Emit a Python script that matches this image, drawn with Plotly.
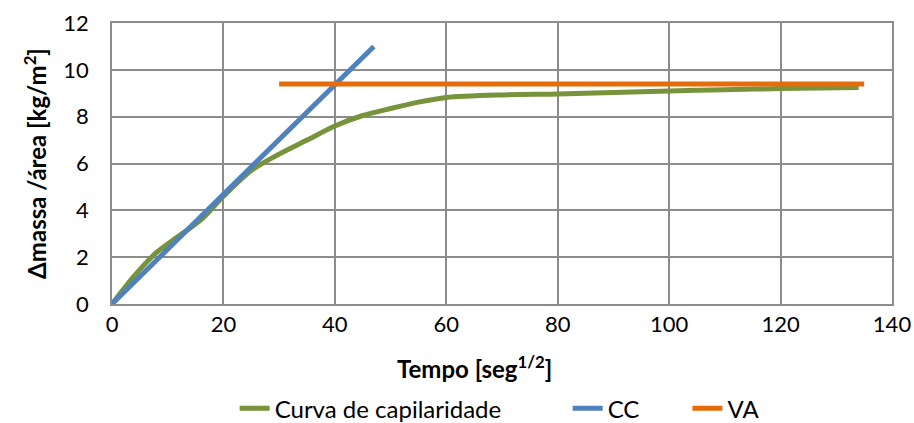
import plotly.graph_objects as go

curva_x = [0, 4, 8, 12, 16, 20, 25, 30, 35, 40, 45, 50, 55, 60, 70, 80, 90, 100, 110, 120, 134]
curva_y = [0, 1.2, 2.2, 2.9, 3.6, 4.6, 5.7, 6.4, 7.0, 7.6, 8.05, 8.35, 8.62, 8.82, 8.93, 8.97, 9.03, 9.1, 9.15, 9.2, 9.25]
cc_x = [0, 47]
cc_y = [0, 11]
va_x = [30, 135]
va_y = [9.4, 9.4]

font = "Lato, 'Open Sans', sans-serif"
grid = "#8c8c8c"
pad = "\u00a0"

fig = go.Figure()
fig.add_trace(go.Scatter(x=curva_x, y=curva_y, mode="lines", name="Curva de capilaridade" + pad * 10,
                         line=dict(color="#77933C", width=5, shape="spline", smoothing=0.8)))
fig.add_trace(go.Scatter(x=cc_x, y=cc_y, mode="lines", name="CC" + pad * 7,
                         line=dict(color="#4F81BD", width=5)))
fig.add_trace(go.Scatter(x=va_x, y=va_y, mode="lines", name="VA",
                         line=dict(color="#E46C0A", width=5)))

fig.update_layout(
    width=914, height=423,
    margin=dict(l=112, r=22, t=23, b=119, autoexpand=False),
    paper_bgcolor="white", plot_bgcolor="white",
    font=dict(family=font, size=22, color="#000000"),
    showlegend=True,
    legend=dict(orientation="h", x=0.497, xanchor="center", y=-0.372, yanchor="middle",
                font=dict(size=24), tracegroupgap=0),
    xaxis=dict(range=[0, 140], dtick=20, showgrid=True, gridcolor=grid, gridwidth=2,
               showline=True, linecolor=grid, linewidth=2, mirror=True, zeroline=False,
               ticks="", tickfont=dict(size=22), automargin=False),
    yaxis=dict(range=[0, 12], dtick=2, showgrid=True, gridcolor=grid, gridwidth=2,
               showline=True, linecolor=grid, linewidth=2, mirror=True, zeroline=False,
               ticks="", tickfont=dict(size=22), ticksuffix="   ", automargin=False,
               title=dict(text="<b>Δmassa /área [kg/m<sup>2</sup>]</b>", font=dict(size=24), standoff=10)),
    annotations=[dict(text="<b>Tempo [seg<sup>1/2</sup>]</b>", xref="paper", yref="paper",
                      x=0.465, y=-0.225, xanchor="center", yanchor="middle",
                      showarrow=False, font=dict(size=24))],
)

fig.write_html("out.html")
